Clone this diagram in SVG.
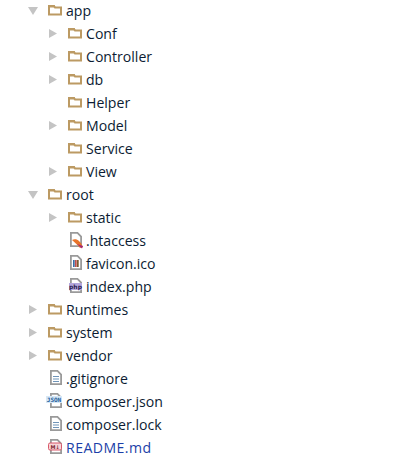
<svg xmlns="http://www.w3.org/2000/svg" width="411" height="462" viewBox="0 0 411 462">
<style>
text{font-family:"Open Sans","Noto Sans","Liberation Sans",sans-serif;font-size:14.100px;fill:#0c1c33}
.f{fill:#fff;stroke:#bc9a63;stroke-width:2}
.t{fill:#c4c4c4}
.d{fill:#fff;stroke:#9a9a9a;stroke-width:1.800}
.l{stroke:#6f94b8;stroke-width:1}
</style>
<defs>
<g id="folder"><path class="f" d="M2 4V12.500H14V5.500H8L7 4Z"/><path d="M1 3H7.500L8.500 5.500H1Z" fill="#bc9a63"/></g>
<path id="closed" class="t" d="M0 0L8 4.500L0 9Z"/>
<path id="open" class="t" d="M0 0H10L5 8Z"/>
<g id="doc"><path class="d" d="M.9.900H7.500L11.100 4.500V14.100H.9Z"/></g>
<g id="textdoc"><use href="#doc"/><path class="l" d="M3 6.500H9M3 9H9M3 11.500H9"/></g>
</defs>
<rect width="411" height="462" fill="#fff"/>
<g id="n-app"><use href="#open" x="28" y="7"/><use href="#folder" x="47" y="2"/><text x="66" y="16">app</text></g>
<g id="n-conf"><use href="#closed" x="49" y="29"/><use href="#folder" x="67" y="25"/><text x="86" y="39">Conf</text></g>
<g id="n-controller"><use href="#closed" x="49" y="52"/><use href="#folder" x="67" y="48"/><text x="86" y="62">Controller</text></g>
<g id="n-db"><use href="#closed" x="49" y="75"/><use href="#folder" x="67" y="71"/><text x="86" y="85">db</text></g>
<g id="n-helper"><use href="#folder" x="67" y="94"/><text x="86" y="108">Helper</text></g>
<g id="n-model"><use href="#closed" x="49" y="121"/><use href="#folder" x="67" y="117"/><text x="86" y="131">Model</text></g>
<g id="n-service"><use href="#folder" x="67" y="140"/><text x="86" y="154">Service</text></g>
<g id="n-view"><use href="#closed" x="49" y="167"/><use href="#folder" x="67" y="163"/><text x="86" y="177">View</text></g>
<g id="n-root"><use href="#open" x="28" y="191"/><use href="#folder" x="47" y="186"/><text x="66" y="200">root</text></g>
<g id="n-static"><use href="#closed" x="49" y="213"/><use href="#folder" x="67" y="209"/><text x="86" y="223">static</text></g>
<g id="n-htaccess"><use href="#doc" x="70" y="232"/><path d="M72 240C76 238 80 240 83 247L80 248C78 245 75 243 72 240Z" fill="#e8742a"/><path d="M77 244L83 246L82 248.500Z" fill="#a0287c"/><text x="86" y="246">.htaccess</text></g>
<g id="n-favicon"><use href="#doc" x="70" y="255"/><rect x="73" y="260" width="1.700" height="7" fill="#3a6ea5"/><rect x="75" y="260" width="1.700" height="7" fill="#c0504d"/><rect x="77" y="260" width="1.700" height="7" fill="#7a5a30"/><text x="86" y="269">favicon.ico</text></g>
<g id="n-index"><use href="#doc" x="70" y="278"/><rect x="69" y="283" width="13" height="7" fill="#b3a6dc"/><text x="75.500" y="289" text-anchor="middle" style="font-size:6px;fill:#2a2050;font-family:'DejaVu Sans',sans-serif;font-weight:700">php</text><text x="86" y="292">index.php</text></g>
<g id="n-runtimes"><use href="#closed" x="29" y="305"/><use href="#folder" x="47" y="301"/><text x="66" y="315">Runtimes</text></g>
<g id="n-system"><use href="#closed" x="29" y="328"/><use href="#folder" x="47" y="324"/><text x="66" y="338">system</text></g>
<g id="n-vendor"><use href="#closed" x="29" y="351"/><use href="#folder" x="47" y="347"/><text x="66" y="361">vendor</text></g>
<g id="n-gitignore"><use href="#textdoc" x="50" y="370"/><text x="66" y="384">.gitignore</text></g>
<g id="n-composer-json"><use href="#doc" x="50" y="393"/><rect x="46" y="396" width="16" height="7" fill="#d6e8f7"/><text x="54" y="402" text-anchor="middle" style="font-size:6px;fill:#1f5c99;font-family:'DejaVu Sans Mono',monospace;font-weight:700">JSON</text><text x="66" y="407">composer.json</text></g>
<g id="n-composer-lock"><use href="#textdoc" x="50" y="416"/><text x="66" y="430">composer.lock</text></g>
<g id="n-readme"><use href="#doc" x="50" y="439"/><rect x="48.500" y="443" width="13" height="7" rx="1.500" fill="#f6d5d8" stroke="#d9596a"/><text x="55" y="449" text-anchor="middle" style="font-size:5px;fill:#7a1c2a;font-family:'DejaVu Sans',sans-serif;font-weight:700">M↓</text><text x="66" y="453" textLength="85" style="fill:#1c3fa8">README.md</text></g>
<g id="connectors"/>
</svg>
